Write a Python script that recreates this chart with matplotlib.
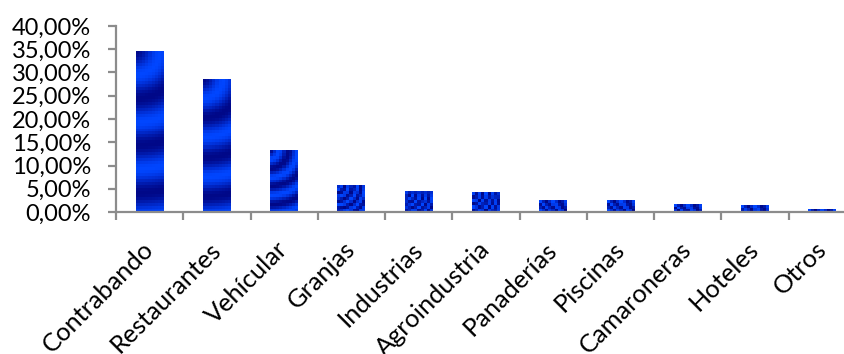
import numpy as np
import matplotlib
matplotlib.use("Agg")
import matplotlib.pyplot as plt
from matplotlib.colors import LinearSegmentedColormap

categories = ["Contrabando", "Restaurantes", "Vehícular", "Granjas", "Industrias",
              "Agroindustria", "Panaderías", "Piscinas", "Camaroneras", "Hoteles", "Otros"]
shares = [34.6, 28.6, 13.3, 5.8, 4.5, 4.1, 2.4, 2.4, 1.7, 1.3, 0.6]
y_ticks = [0, 5, 10, 15, 20, 25, 30, 35, 40]

FONT = "Lato"
W, H, DPI = 845, 354, 100
fig = plt.figure(figsize=(W / DPI, H / DPI), dpi=DPI)
ax_l, ax_b, ax_w, ax_h = 116 / W, 142 / H, 740 / W, 186 / H
ax = fig.add_axes([ax_l, ax_b, ax_w, ax_h])

ymax = 40.0
px_per_unit_y = 186 / ymax
px_per_cat = 740 / 11
bar_w = 0.415

# banded gradient fill: navy / bright blue rings spreading from the top-left corner
cmap = LinearSegmentedColormap.from_list("band", ["#0046ff", "#0030d8", "#001cb0", "#000888"])
cell = 3.0
for i, v in enumerate(shares):
    h_px = v * px_per_unit_y
    w_px = bar_w * px_per_cat
    ny = max(1, int(round(h_px / cell)))
    nx = max(1, int(round(w_px / cell)))
    xs = (np.arange(nx) + 0.5) * w_px / nx
    ys = (np.arange(ny) + 0.5) * h_px / ny
    X, Y = np.meshgrid(xs, ys)
    r = np.hypot(X, Y)
    period = max(h_px / 3.4, 4.0)
    dark = 0.5 + 0.5 * np.cos(2 * np.pi * r / period)
    ax.imshow(dark, cmap=cmap, vmin=0, vmax=1, origin="upper", aspect="auto",
              interpolation="nearest",
              extent=(i - bar_w / 2, i + bar_w / 2, 0, v), zorder=2)

ax.set_xlim(-0.5, 10.5)
ax.set_ylim(0, ymax)

axis_col = "#8c8c8c"
for side in ("top", "right"):
    ax.spines[side].set_visible(False)
for side in ("left", "bottom"):
    ax.spines[side].set_color(axis_col)
    ax.spines[side].set_linewidth(1.6)
    ax.spines[side].set_zorder(3)

ax.set_yticks(y_ticks)
ax.set_yticklabels([f"{t:.2f}%".replace(".", ",") for t in y_ticks],
                   fontsize=17, family=FONT)
ax.tick_params(axis="y", direction="out", length=6, width=1.6, color=axis_col, pad=12)

ax.set_xticks(np.arange(-0.5, 11.0, 1.0))
ax.set_xticklabels([])
ax.tick_params(axis="x", direction="out", length=6, width=1.6, color=axis_col)

xtrans = ax.get_xaxis_transform()
for i, name in enumerate(categories):
    ax.text(i + 0.08, -39 / 186, name, transform=xtrans, rotation=45,
            rotation_mode="anchor", ha="right", va="baseline",
            fontsize=18.3, family=FONT, color="black")

fig.savefig("out.png", dpi=DPI)
